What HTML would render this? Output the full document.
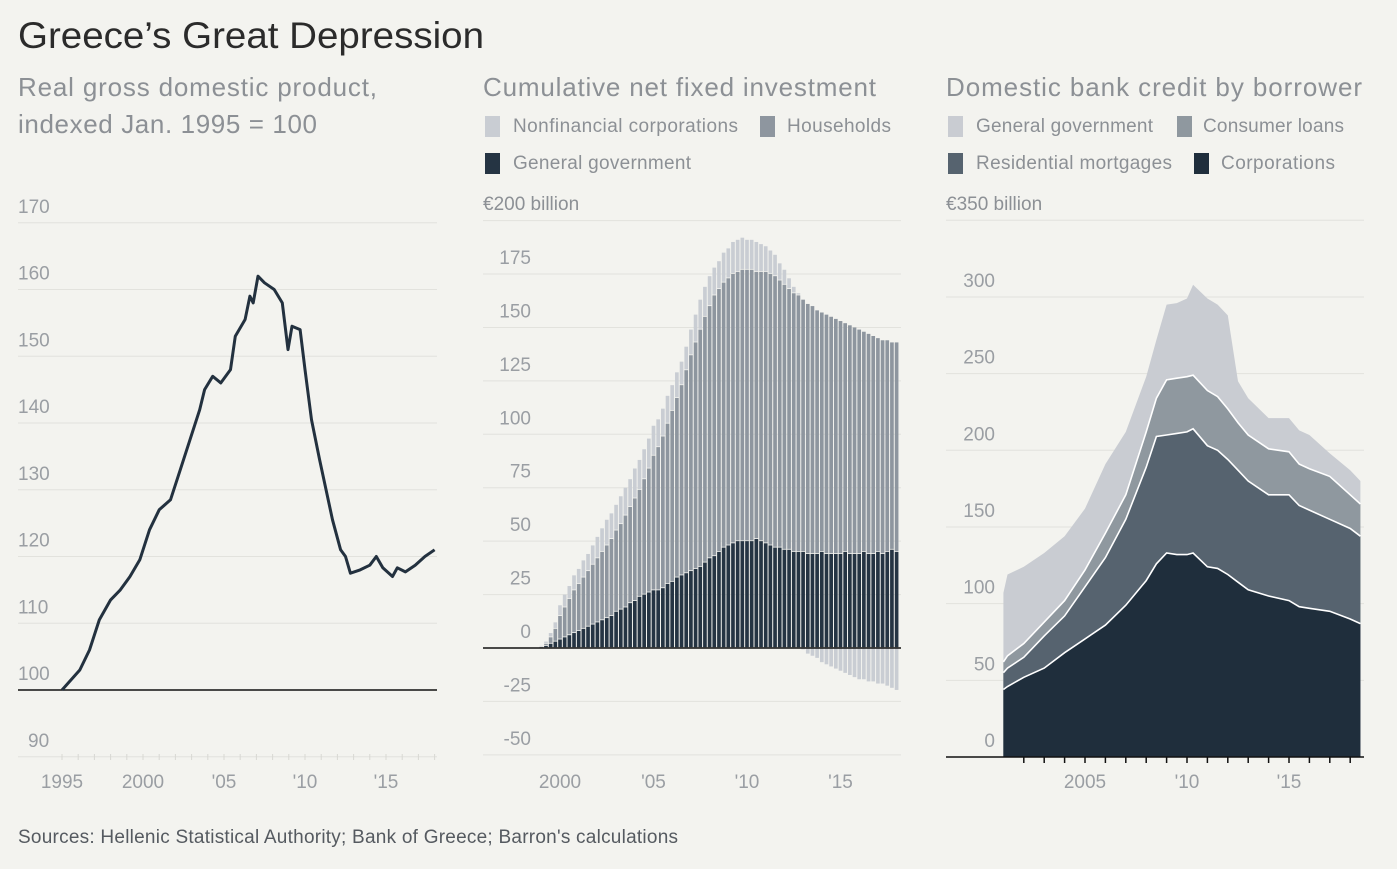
<!DOCTYPE html>
<html><head><meta charset="utf-8"><style>
body{margin:0;background:#f3f3ef;}
svg{display:block;font-family:"Liberation Sans",sans-serif;}
</style></head><body>
<svg id="chart" width="1397" height="869" viewBox="0 0 1397 869">
<rect x="0" y="0" width="1397" height="869" fill="#f3f3ef"/>
<text x="18" y="48" font-size="37" fill="#2b2b2b" textLength="466" lengthAdjust="spacingAndGlyphs">Greece’s Great Depression</text>
<text x="18" y="96" font-size="26" fill="#8c9095" textLength="359">Real gross domestic product,</text>
<text x="18" y="133" font-size="26" fill="#8c9095" textLength="299">indexed Jan. 1995 = 100</text>
<text x="483" y="96" font-size="26" fill="#8c9095" textLength="393">Cumulative net fixed investment</text>
<text x="946" y="96" font-size="26" fill="#8c9095" textLength="416">Domestic bank credit by borrower</text>
<g font-size="19" fill="#8c9095">
<rect x="485" y="116" width="15" height="21" fill="#c9cdd3"/>
<text x="513" y="132" textLength="225">Nonfinancial corporations</text>
<rect x="760" y="116" width="15" height="21" fill="#8e969f"/>
<text x="787" y="132" textLength="104">Households</text>
<rect x="485" y="153" width="15" height="21" fill="#253443"/>
<text x="513" y="169" textLength="178">General government</text>
<rect x="948" y="116" width="15" height="21" fill="#c9ccd2"/>
<text x="976" y="132" textLength="177">General government</text>
<rect x="1177" y="116" width="15" height="21" fill="#8f989f"/>
<text x="1203" y="132" textLength="141">Consumer loans</text>
<rect x="948" y="153" width="15" height="21" fill="#56636f"/>
<text x="976" y="169" textLength="196">Residential mortgages</text>
<rect x="1194" y="153" width="15" height="21" fill="#1f2e3c"/>
<text x="1221" y="169" textLength="114">Corporations</text>
</g>
<text x="18" y="843" font-size="19" fill="#555a60" textLength="660">Sources: Hellenic Statistical Authority; Bank of Greece; Barron's calculations</text>
<g id="p1"></g><g id="p2"></g><g id="p3"></g>
</svg>
<script>
// ---- Panel 1 data: GDP index
const gdpYears = [1995,1996.1,1996.7,1997.3,1998.0,1998.6,1999.2,1999.8,2000.4,2001.0,2001.7,2002.3,2002.9,2003.5,2003.8,2004.3,2004.8,2005.4,2005.7,2006.3,2006.6,2006.8,2007.1,2007.5,2007.8,2008.1,2008.6,2008.95,2009.2,2009.7,2010.0,2010.4,2010.9,2011.7,2012.2,2012.5,2012.8,2013.4,2014.0,2014.4,2014.8,2015.4,2015.7,2016.2,2016.8,2017.4,2018.0];
const gdpValues = [100,103,106,110.5,113.5,115,117,119.5,124,127,128.5,133,137.5,142,145,147,146,148,153,155.5,159,158,162,161,160.5,160,158,151,154.5,154,148,140.5,134.5,125.5,121,120,117.5,118,118.7,120,118.3,117,118.3,117.7,118.7,120,121];
const gdpTicks = [90,100,110,120,130,140,150,160,170];
const gdpYearTicks = [1995,2000,2005,2010,2015];
const gdpYearLabels = ["1995","2000","'05","'10","'15"];

// ---- Panel 2 data: quarterly from 1999Q1 to 2018Q1
const invStart = 1999;
const invGovernment = [0.5,1,2,3, 4,5,6,7, 8,9,10,11, 12,13,14,15, 17,18,19,21, 22,24,25,26, 27,27,28,30, 31,33,34,35, 36,37,38,40, 42,43,45,47, 48,49,50,50, 50,50,51,50, 49,48,47,47, 46,46,45,45, 45,44,44,44, 45,44,44,44, 44,45,44,44, 44,45,44,44, 45,44,45,46, 45];
const invHouseholds = [0,1,3,6, 11,14,17,20, 22,24,26,28, 30,32,34,36, 38,40,43,45, 48,50,54,58, 63,67,71,75, 80,84,89,95, 101,106,111,115, 118,122,123,124, 125,126,126,127, 127,127,125,126, 127,127,127,125, 124,122,121,120, 118,117,116,114, 112,112,111,110, 109,107,107,106, 105,103,103,102, 100,100,99,97, 98];
const invNonfinancial = [0.5,1,2,3, 5,6,6,7, 7,8,8,9, 10,11,12,12, 12,13,13,13, 14,14,14,14, 14,13,13,13, 12,12,11,11, 12,13,14,14, 14,13,13,14, 14,15,15,15, 14,14,14,13, 12,11,10,8, 7,5,3,1, -1,-3,-4,-5, -7,-8,-9,-10, -11,-12,-13,-14, -15,-15,-16,-16, -17,-17,-18,-19, -20];
const invTicks = [-50,-25,0,25,50,75,100,125,150,175];
const invYearTicks = [2000,2005,2010,2015];
const invYearLabels = ["2000","'05","'10","'15"];

// ---- Panel 3 data
const creditYears = [2001,2001.2,2002,2003,2004,2005,2006,2007,2008,2008.5,2009,2009.5,2010,2010.3,2011,2011.5,2012,2012.5,2013,2014,2015,2015.5,2016,2017,2018,2018.5];
const creditCorporations = [44,46,52,58,68,77,86,99,115,126,133,132,132,133,124,123,119,114,109,105,102,98,97,95,90,87];
const creditMortgages = [11,12,13,21,24,34,44,56,74,83,77,79,80,81,79,77,75,73,71,66,69,66,64,60,59,57];
const creditConsumer = [7,8,9,9,10,11,16,16,23,25,36,36,36,35,36,35,33,31,30,30,28,27,27,28,22,21];
const creditGovernment = [45,53,50,45,42,40,45,41,36,38,49,49,51,59,60,60,61,27,24,20,22,22,22,15,16,15];
const creditTicks = [0,50,100,150,200,250,300];
const creditYearTicks = [2005,2010,2015];
const creditYearLabels = ["2005","'10","'15"];

const NS = "http://www.w3.org/2000/svg";
function mk(tag, attrs, parent, txt){
  const e = document.createElementNS(NS, tag);
  for (const k in attrs) e.setAttribute(k, attrs[k]);
  if (txt !== undefined) e.textContent = txt;
  parent.appendChild(e);
  return e;
}
const LBL = "#9a9ea3", GRID = "#e2e2dd";

// ===== Panel 1
(function(){
  const g = document.getElementById('p1');
  const x = yr => 62 + (yr - 1995) * 16.2;
  const y = v => 690 - (v - 100) * 6.675;
  gdpTicks.forEach(t => {
    if (t !== 100) {
      const l = mk('line', {x1:18, x2:437, y1:y(t), y2:y(t), stroke:GRID, 'stroke-width':1}, g);
      
      
    }
    const tx = mk('text', {x: t >= 100 ? 18 : 28, y:y(t)-10, 'font-size':19, fill:LBL}, g, String(t));
    
    
  });
  for (let yr = 1995; yr <= 2018; yr++) {
    const tk = mk('line', {x1:x(yr), x2:x(yr), y1:754, y2:760, stroke:"#d8d8d3", 'stroke-width':1}, g);
    
    
  }
  gdpYearTicks.forEach((yr, i) => {
    const t = mk('text', {x:x(yr), y:788, 'font-size':19, fill:LBL, 'text-anchor':'middle'}, g, gdpYearLabels[i]);
    
    
  });
  const base = mk('line', {x1:18, x2:437, y1:y(100), y2:y(100), stroke:"#111", 'stroke-width':1.5}, g);
  
  
  const d = gdpYears.map((yr, i) => (i ? 'L' : 'M') + x(yr).toFixed(1) + ',' + y(gdpValues[i]).toFixed(1)).join('');
  const p = mk('path', {d:d, fill:'none', stroke:'#23313f', 'stroke-width':3, 'stroke-linejoin':'round'}, g);
  
  
})();

// ===== Panel 2
(function(){
  const g = document.getElementById('p2');
  const x = yr => 560 + (yr - 2000) * 18.7;
  const y = v => 648 - v * 2.137;
  const lab = mk('text', {x:483, y:210, 'font-size':19, fill:"#8c9095"}, g, "€200 billion");
  
  
  const gl = mk('line', {x1:483, x2:901, y1:y(200), y2:y(200), stroke:GRID}, g);
  
  
  invTicks.forEach(t => {
    const l = mk('line', {x1:483, x2:901, y1:y(t), y2:y(t), stroke:GRID}, g);
    
    
    const tx = mk('text', {x:531, y:y(t)-10, 'font-size':19, fill:LBL, 'text-anchor':'end'}, g, String(t));
    
    
  });
  const bw = 18.7 / 4;
  invGovernment.forEach((gv, i) => {
    const yr = invStart + i / 4;
    const x0 = x(yr) - bw / 2 + 0.5, w = bw - 1;
    const hh = invHouseholds[i], nf = invNonfinancial[i];
    const segs = [[0, gv, '#253443', 'government'], [gv, gv + hh, '#8e969f', 'households']];
    if (nf >= 0) segs.push([gv + hh, gv + hh + nf, '#c9cdd3', 'nonfinancial']);
    else segs.push([nf, 0, '#c9cdd3', 'nonfinancial']);
    segs.forEach(s => {
      const top = y(Math.max(s[0], s[1])), bot = y(Math.min(s[0], s[1]));
      const r = mk('rect', {x:x0, y:top, width:w, height:Math.max(0, bot - top - 0.8), fill:s[2]}, g);
      
      
    });
  });
  const zl = mk('line', {x1:483, x2:901, y1:y(0), y2:y(0), stroke:"#111", 'stroke-width':1.5}, g);
  
  
  invYearTicks.forEach((yr, i) => {
    const t = mk('text', {x:x(yr), y:788, 'font-size':19, fill:LBL, 'text-anchor':'middle'}, g, invYearLabels[i]);
    
    
  });
})();

// ===== Panel 3
(function(){
  const g = document.getElementById('p3');
  const x = yr => 1085 + (yr - 2005) * 20.4;
  const y = v => 757 - v * 1.5335;
  const lab = mk('text', {x:946, y:210, 'font-size':19, fill:"#8c9095"}, g, "€350 billion");
  
  
  [350].concat(creditTicks).forEach(t => {
    const l = mk('line', {x1:946, x2:1364, y1:y(t), y2:y(t), stroke:GRID}, g);
    
    
  });
  creditTicks.forEach(t => {
    const tx = mk('text', {x:995, y:y(t)-10, 'font-size':19, fill:LBL, 'text-anchor':'end'}, g, String(t));
    
    
  });
  const series = [[creditCorporations,'#1f2e3c','corporations'],[creditMortgages,'#56636f','mortgages'],[creditConsumer,'#8f989f','consumer-loans'],[creditGovernment,'#c9ccd2','government']];
  let lower = creditYears.map(() => 0);
  const layers = [];
  series.forEach(s => {
    const upper = lower.map((v, i) => v + s[0][i]);
    layers.push([lower, upper, s[1], s[2]]);
    lower = upper;
  });
  layers.slice().reverse().forEach(L => {
    const up = creditYears.map((yr, i) => x(yr).toFixed(1) + ',' + y(L[1][i]).toFixed(1));
    const d = 'M' + x(creditYears[0]) + ',' + y(0) + 'L' + up.join('L') + 'L' + x(creditYears[creditYears.length-1]) + ',' + y(0) + 'Z';
    const p = mk('path', {d:d, fill:L[2]}, g);
    
    
  });
  layers.slice(0, 3).forEach(L => {
    const d = 'M' + creditYears.map((yr, i) => x(yr).toFixed(1) + ',' + y(L[1][i]).toFixed(1)).join('L');
    const p = mk('path', {d:d, fill:'none', stroke:'#fff', 'stroke-width':1.6}, g);
    
    
  });
  const ax = mk('line', {x1:946, x2:1364, y1:y(0), y2:y(0), stroke:"#111", 'stroke-width':1.5}, g);
  
  
  for (let yr = 2002; yr <= 2018; yr++) {
    const tk = mk('line', {x1:x(yr), x2:x(yr), y1:y(0), y2:y(0)+6, stroke:"#111", 'stroke-width':1.5}, g);
    
    
  }
  creditYearTicks.forEach((yr, i) => {
    const t = mk('text', {x:x(yr), y:788, 'font-size':19, fill:LBL, 'text-anchor':'middle'}, g, creditYearLabels[i]);
    
    
  });
})();
</script>
</body></html>
